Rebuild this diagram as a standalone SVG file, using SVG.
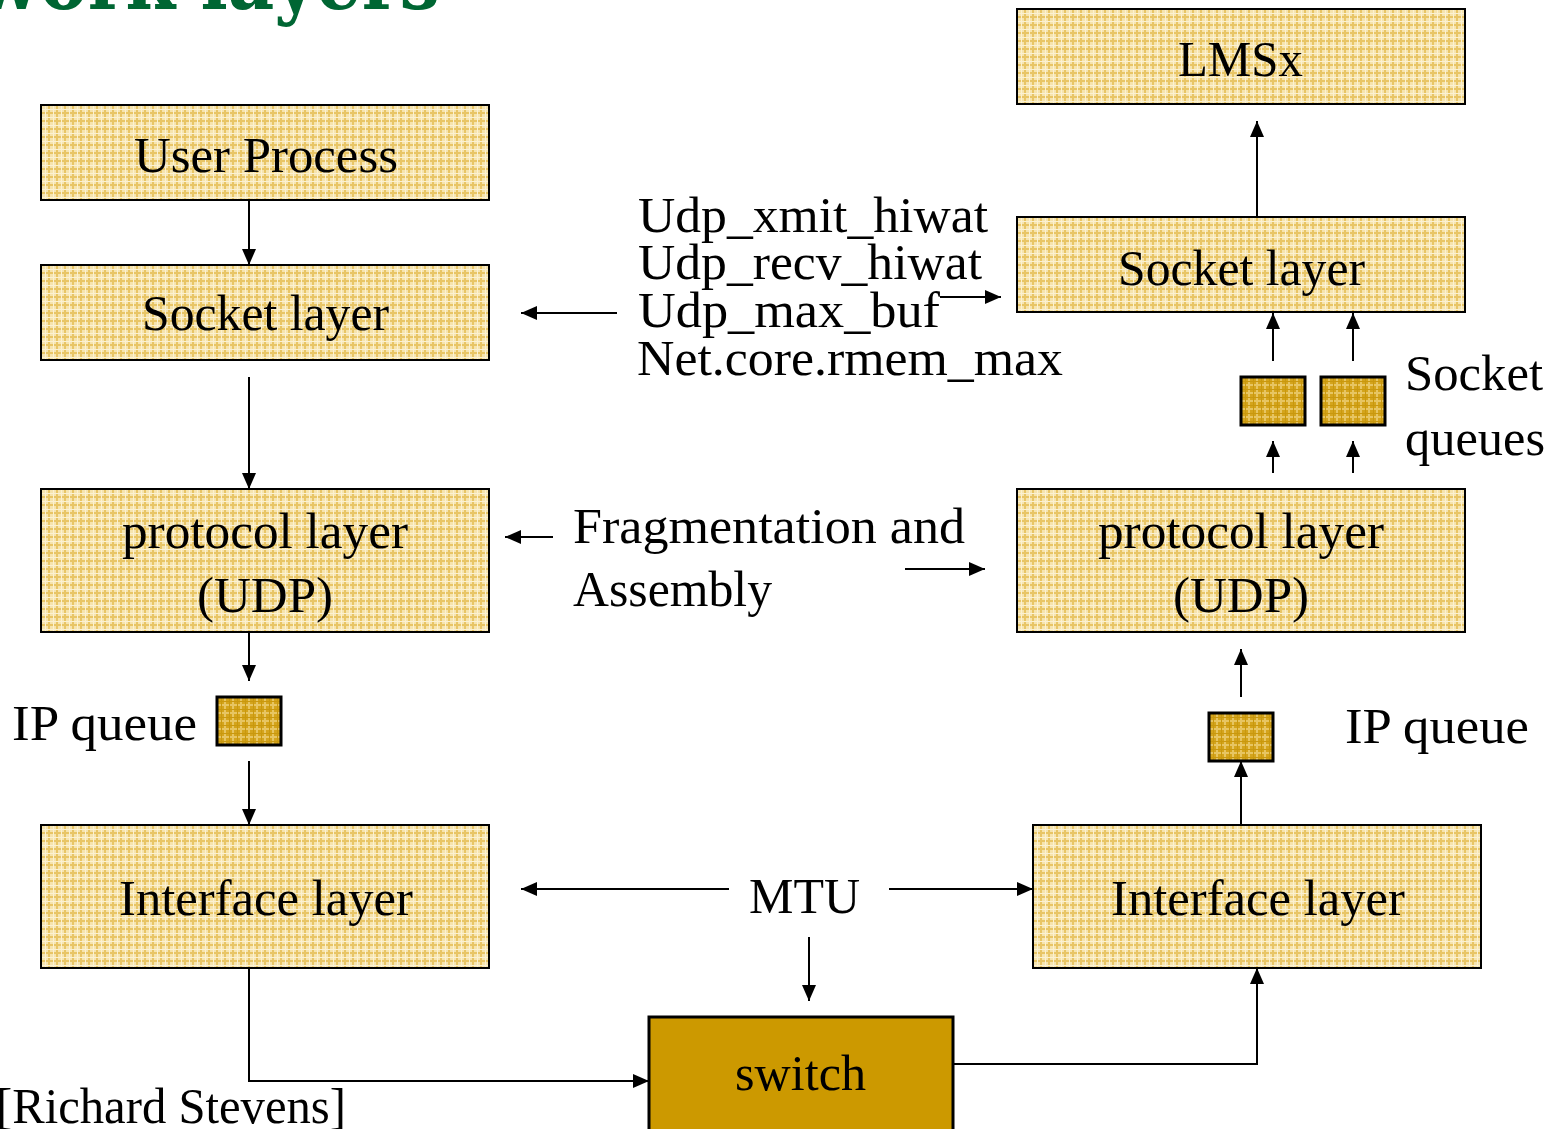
<svg xmlns="http://www.w3.org/2000/svg" width="1562" height="1129" viewBox="0 0 1562 1129">
  <defs>
    <!-- light plaid fill used by the layer boxes -->
    <pattern id="plaidLight" width="8" height="8" patternUnits="userSpaceOnUse">
      <rect width="8" height="8" fill="#F6E4AE"/>
      <rect x="0" y="0" width="2" height="8" fill="#E8C566"/>
      <rect x="0" y="0" width="8" height="2" fill="#E8C566"/>
      <rect x="5" y="0" width="1" height="8" fill="#FBF1D2"/>
      <rect x="0" y="5" width="8" height="1" fill="#FBF1D2"/>
    </pattern>
    <!-- darker plaid fill used by the queue squares -->
    <pattern id="plaidDark" width="8" height="8" patternUnits="userSpaceOnUse">
      <rect width="8" height="8" fill="#D4A41C"/>
      <rect x="0" y="0" width="2" height="8" fill="#E7C562"/>
      <rect x="0" y="0" width="8" height="2" fill="#E7C562"/>
      <rect x="5" y="0" width="1" height="8" fill="#C9980E"/>
      <rect x="0" y="5" width="8" height="1" fill="#C9980E"/>
    </pattern>
    <marker id="arrow" viewBox="0 0 16 14" refX="16" refY="7" markerWidth="16" markerHeight="14" markerUnits="userSpaceOnUse" orient="auto">
      <path d="M0,0 L16,7 L0,14 Z" fill="#000"/>
    </marker>
  </defs>
  <style>
    .box { fill: url(#plaidLight); stroke: #000; stroke-width: 2; }
    .queue { fill: url(#plaidDark); stroke: #000; stroke-width: 3; }
    .switch { fill: #CC9900; stroke: #000; stroke-width: 3; }
    .lbl { font-family: "Liberation Serif", "Times New Roman", serif; font-size: 50px; fill: #000; }
    .title { font-family: "DejaVu Serif", "Liberation Serif", serif; font-weight: bold; font-size: 82px; fill: #006633; }
    .conn { fill: none; stroke: #000; stroke-width: 2; marker-end: url(#arrow); }
  </style>

  <rect width="1562" height="1129" fill="#FFFFFF"/>

  <!-- page title, clipped by the top edge -->
  <text class="title" x="-22" y="9" textLength="462" lengthAdjust="spacingAndGlyphs">work layers</text>

  <!-- sending side -->
  <g id="user-process">
    <rect class="box" x="41" y="105" width="448" height="95"/>
    <text class="lbl" x="134" y="172" textLength="264" lengthAdjust="spacingAndGlyphs">User Process</text>
  </g>
  <g id="socket-layer-tx">
    <rect class="box" x="41" y="265" width="448" height="95"/>
    <text class="lbl" x="142" y="330" textLength="247" lengthAdjust="spacingAndGlyphs">Socket layer</text>
  </g>
  <g id="protocol-layer-tx">
    <rect class="box" x="41" y="489" width="448" height="143"/>
    <text class="lbl" x="122" y="548" textLength="286" lengthAdjust="spacingAndGlyphs">protocol layer</text>
    <text class="lbl" x="197" y="612" textLength="136" lengthAdjust="spacingAndGlyphs">(UDP)</text>
  </g>
  <g id="ip-queue-tx">
    <rect class="queue" x="217" y="697" width="64" height="48"/>
    <text class="lbl" x="12" y="740" textLength="185" lengthAdjust="spacingAndGlyphs">IP queue</text>
  </g>
  <g id="interface-layer-tx">
    <rect class="box" x="41" y="825" width="448" height="143"/>
    <text class="lbl" x="119" y="915" textLength="294" lengthAdjust="spacingAndGlyphs">Interface layer</text>
  </g>

  <!-- receiving side -->
  <g id="lmsx">
    <rect class="box" x="1017" y="9" width="448" height="95"/>
    <text class="lbl" x="1178" y="76" textLength="125" lengthAdjust="spacingAndGlyphs">LMSx</text>
  </g>
  <g id="socket-layer-rx">
    <rect class="box" x="1017" y="217" width="448" height="95"/>
    <text class="lbl" x="1118" y="285" textLength="247" lengthAdjust="spacingAndGlyphs">Socket layer</text>
  </g>
  <g id="socket-queues">
    <rect class="queue" x="1241" y="377" width="64" height="48"/>
    <rect class="queue" x="1321" y="377" width="64" height="48"/>
    <text class="lbl" x="1405" y="390" textLength="138" lengthAdjust="spacingAndGlyphs">Socket</text>
    <text class="lbl" x="1405" y="455" textLength="140" lengthAdjust="spacingAndGlyphs">queues</text>
  </g>
  <g id="protocol-layer-rx">
    <rect class="box" x="1017" y="489" width="448" height="143"/>
    <text class="lbl" x="1098" y="548" textLength="286" lengthAdjust="spacingAndGlyphs">protocol layer</text>
    <text class="lbl" x="1173" y="612" textLength="136" lengthAdjust="spacingAndGlyphs">(UDP)</text>
  </g>
  <g id="ip-queue-rx">
    <rect class="queue" x="1209" y="713" width="64" height="48"/>
    <text class="lbl" x="1345" y="743" textLength="184" lengthAdjust="spacingAndGlyphs">IP queue</text>
  </g>
  <g id="interface-layer-rx">
    <rect class="box" x="1033" y="825" width="448" height="143"/>
    <text class="lbl" x="1111" y="915" textLength="294" lengthAdjust="spacingAndGlyphs">Interface layer</text>
  </g>

  <g id="switch">
    <rect class="switch" x="649" y="1017" width="304" height="120"/>
    <text class="lbl" x="735" y="1090" textLength="131" lengthAdjust="spacingAndGlyphs">switch</text>
  </g>

  <!-- tunables and notes between the stacks -->
  <g id="buffer-params">
    <text class="lbl" x="638" y="232" textLength="350" lengthAdjust="spacingAndGlyphs">Udp_xmit_hiwat</text>
    <text class="lbl" x="638" y="279" textLength="344" lengthAdjust="spacingAndGlyphs">Udp_recv_hiwat</text>
    <text class="lbl" x="638" y="327" textLength="302" lengthAdjust="spacingAndGlyphs">Udp_max_buf</text>
    <text class="lbl" x="637" y="375" textLength="426" lengthAdjust="spacingAndGlyphs">Net.core.rmem_max</text>
  </g>
  <g id="fragmentation">
    <text class="lbl" x="573" y="543" textLength="392" lengthAdjust="spacingAndGlyphs">Fragmentation and</text>
    <text class="lbl" x="573" y="606" textLength="199" lengthAdjust="spacingAndGlyphs">Assembly</text>
  </g>
  <g id="mtu">
    <text class="lbl" x="749" y="913" textLength="111" lengthAdjust="spacingAndGlyphs">MTU</text>
  </g>
  <text class="lbl" x="-4" y="1123" textLength="350" lengthAdjust="spacingAndGlyphs">[Richard Stevens]</text>

  <g id="connectors">
    <!-- send path -->
    <line class="conn" x1="249" y1="200" x2="249" y2="265"/>
    <line class="conn" x1="249" y1="377" x2="249" y2="489"/>
    <line class="conn" x1="249" y1="632" x2="249" y2="681"/>
    <line class="conn" x1="249" y1="761" x2="249" y2="825"/>
    <polyline class="conn" points="249,968 249,1081 649,1081"/>
    <!-- receive path -->
    <polyline class="conn" points="953,1064 1257,1064 1257,968"/>
    <line class="conn" x1="1241" y1="825" x2="1241" y2="761"/>
    <line class="conn" x1="1241" y1="697" x2="1241" y2="649"/>
    <line class="conn" x1="1273" y1="473" x2="1273" y2="441"/>
    <line class="conn" x1="1353" y1="473" x2="1353" y2="441"/>
    <line class="conn" x1="1273" y1="361" x2="1273" y2="313"/>
    <line class="conn" x1="1353" y1="361" x2="1353" y2="313"/>
    <line class="conn" x1="1257" y1="217" x2="1257" y2="121"/>
    <!-- parameter pointers -->
    <line class="conn" x1="617" y1="313" x2="521" y2="313"/>
    <line class="conn" x1="940" y1="297" x2="1001" y2="297"/>
    <line class="conn" x1="553" y1="537" x2="505" y2="537"/>
    <line class="conn" x1="905" y1="569" x2="985" y2="569"/>
    <line class="conn" x1="729" y1="889" x2="521" y2="889"/>
    <line class="conn" x1="889" y1="889" x2="1033" y2="889"/>
    <line class="conn" x1="809" y1="937" x2="809" y2="1001"/>
  </g>
</svg>
